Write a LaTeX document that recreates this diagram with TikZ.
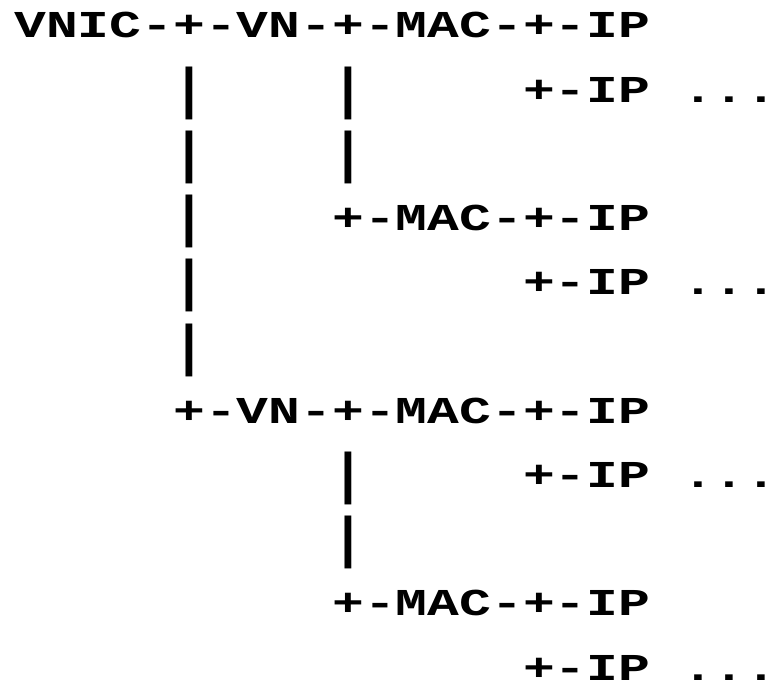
\documentclass[tikz,border=0pt]{standalone}
\usepackage{fontspec}
\newfontfamily\asciifont[FakeStretch=1.395]{Liberation Mono}
\tikzset{
  asciirow/.style={anchor=base west, inner sep=0pt, text depth=0pt, font=\asciifont\bfseries\fontsize{38}{38}\selectfont},
  asciibar/.style={asciirow, yscale=1.47, transform shape}
}
% #1 name, #2 column, #3 line, #4 text
\newcommand{\asciitext}[4]{\node[asciirow] (#1) at ({(14+#2*31.8)*1pt}, {(-38-#3*64.2)*1pt}) {#4};}
\newcommand{\asciibar}[3]{\node[asciibar] (#1) at ({(14+#2*31.8)*1pt}, {(-43-#3*64.2)*1pt}) {|};}

\begin{document}
\begin{tikzpicture}
    \useasboundingbox (0,0) rectangle (778pt,-687pt);
    % line0
    \asciitext{vnic}{0}{0}{VNIC-+-VN-+-MAC-+-IP}
    % line1
    \asciibar{barA1}{5}{1}
    \asciibar{barB1}{10}{1}
    \asciitext{ipA2}{16}{1}{+-IP ...}
    % line2
    \asciibar{barA2}{5}{2}
    \asciibar{barB2}{10}{2}
    % line3
    \asciibar{barA3}{5}{3}
    \asciitext{macA2}{10}{3}{+-MAC-+-IP}
    % line4
    \asciibar{barA4}{5}{4}
    \asciitext{ipB2}{16}{4}{+-IP ...}
    % line5
    \asciibar{barA5}{5}{5}
    % line6
    \asciitext{vnB}{5}{6}{+-VN-+-MAC-+-IP}
    % line7
    \asciibar{barC1}{10}{7}
    \asciitext{ipC2}{16}{7}{+-IP ...}
    % line8
    \asciibar{barC2}{10}{8}
    % line9
    \asciitext{macD}{10}{9}{+-MAC-+-IP}
    % line10
    \asciitext{ipD2}{16}{10}{+-IP ...}
\end{tikzpicture}
\end{document}
